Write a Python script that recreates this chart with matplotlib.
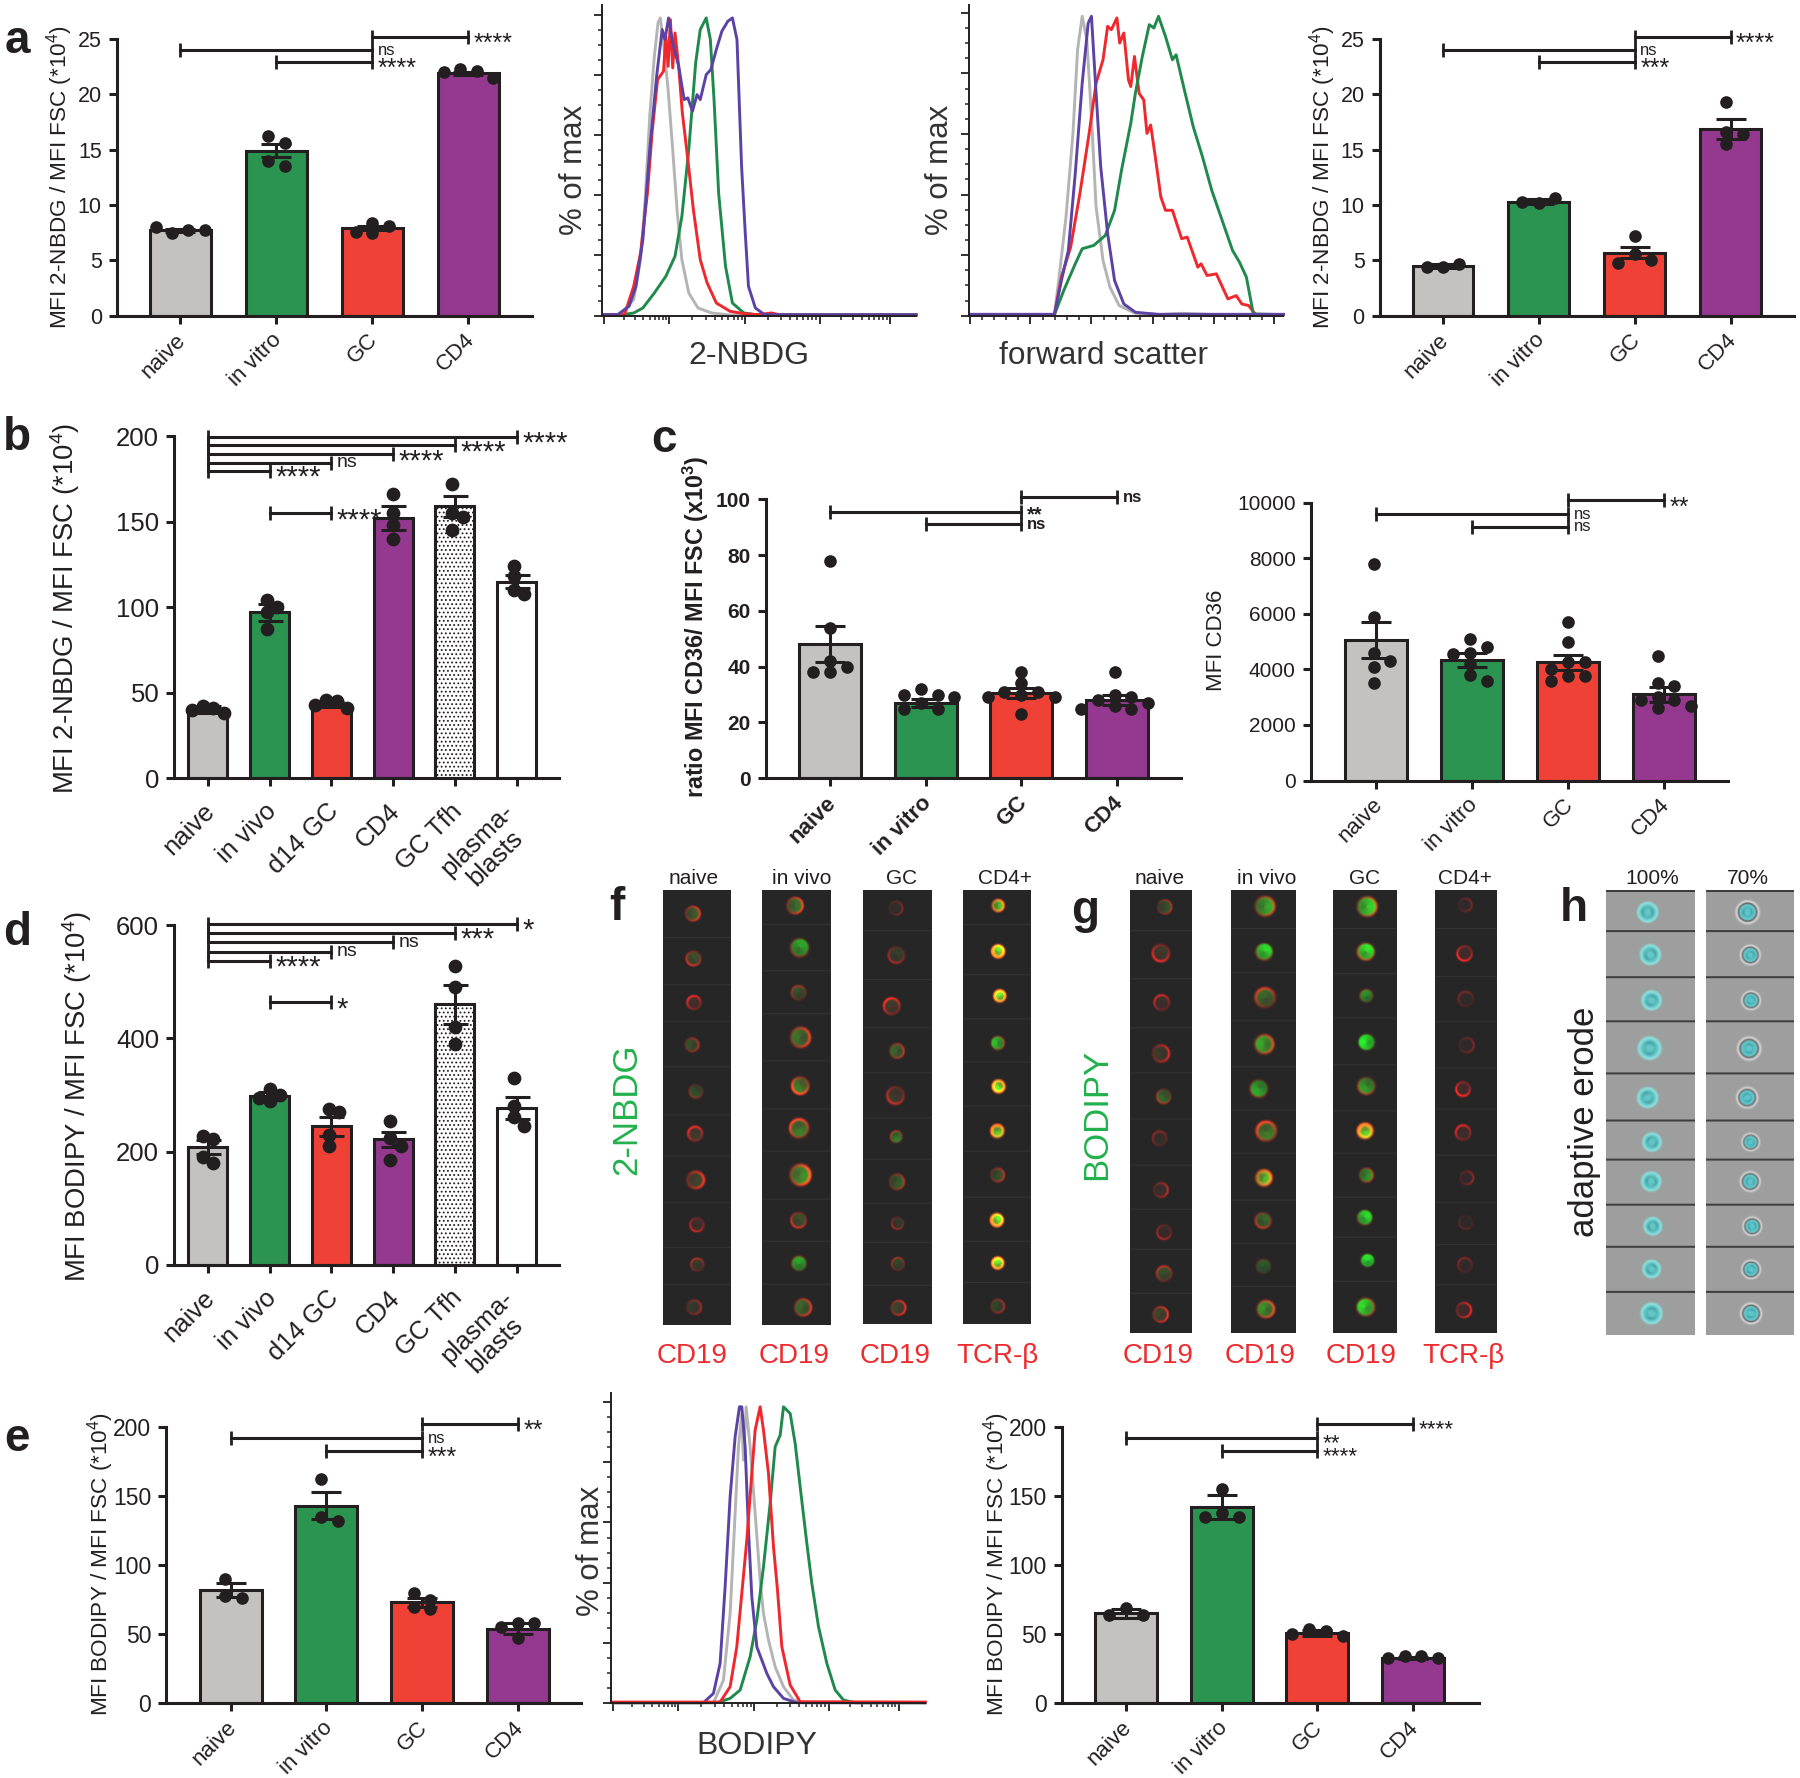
import numpy as np
import matplotlib
matplotlib.use('Agg')
import matplotlib.pyplot as plt
from matplotlib.transforms import ScaledTranslation

plt.rcParams['font.family'] = ['Liberation Sans', 'DejaVu Sans']
plt.rcParams['mathtext.fontset'] = 'custom'
plt.rcParams['mathtext.rm'] = 'Liberation Sans'
plt.rcParams['mathtext.bf'] = 'Liberation Sans:bold'
plt.rcParams['mathtext.default'] = 'regular'
plt.rcParams['hatch.linewidth'] = 0.8

W, H = 1568.0, 1549.0
DARK = '#231f20'
GREY, GREEN, RED, PURPLE = '#c3c2c0', '#2a9450', '#f04137', '#953890'
WHITE = '#ffffff'

# ---- bar data
labels_vitro = ['naive', 'in vitro', 'GC', 'CD4']
labels_vivo = ['naive', 'in vivo', 'd14 GC', 'CD4', 'GC Tfh', 'plasma-\nblasts']

a1_mean = [7.7, 14.9, 7.9, 21.9]
a1_err = [0.15, 0.6, 0.2, 0.15]
a1_pts = [[7.5, 7.7, 8.0, 7.7], [16.2, 15.6, 14.0, 13.5], [8.4, 8.1, 7.6, 7.5], [22.3, 22.1, 22.0, 21.5]]
a1_sig = [(2, 3, 25.2, '****'), (0, 2, 24.0, 'ns'), (1, 2, 22.9, '****')]

a2_mean = [4.5, 10.3, 5.7, 16.9]
a2_err = [0.15, 0.2, 0.5, 0.9]
a2_pts = [[4.4, 4.7, 4.4], [10.2, 10.6, 10.3], [7.2, 5.6, 5.0, 4.8], [19.3, 16.6, 16.4, 15.5]]
a2_sig = [(2, 3, 25.2, '****'), (0, 2, 24.0, 'ns'), (1, 2, 22.9, '***')]

b_mean = [40, 97, 43, 152, 159, 115]
b_err = [2, 5, 1.5, 7, 6, 4]
b_pts = [[42, 41, 40, 38], [104, 100, 97, 87], [46, 45, 43, 41], [166, 155, 148, 140],
         [172, 155, 153, 145], [124, 118, 110, 108]]
b_sig = [(0, 5, 199.5, '****'), (0, 4, 194.6, '****'), (0, 3, 189.3, '****'),
         (0, 2, 184.6, 'ns'), (0, 1, 179.9, '****'), (1, 2, 155, '****')]

c1_mean = [48, 27, 30.5, 28]
c1_err = [6.5, 1.3, 1.8, 1.7]
c1_pts = [[78, 54, 42, 40, 38, 38], [32, 30, 30, 29, 27, 25, 25], [38, 34, 31, 31, 30, 29, 29, 23],
          [38, 30, 29, 28, 27, 26, 25, 25]]
c1_sig = [(2, 3, 100.8, 'ns'), (0, 2, 95.5, '**'), (1, 2, 91, 'ns')]

c2_mean = [5050, 4350, 4250, 3100]
c2_err = [640, 250, 270, 280]
c2_pts = [[7800, 5900, 4600, 4300, 4100, 3500], [5100, 4800, 4600, 4550, 4200, 3800, 3600],
          [5700, 5000, 4250, 4250, 4000, 3750, 3750, 3600], [4500, 3500, 3400, 3000, 2900, 2900, 2700, 2600]]
c2_sig = [(2, 3, 10083, '**'), (0, 2, 9587, 'ns'), (1, 2, 9132, 'ns')]

d_mean = [208, 298, 245, 222, 460, 277]
d_err = [12, 7, 17, 13, 35, 20]
d_pts = [[228, 222, 190, 180], [310, 300, 295, 290], [275, 270, 230, 210], [255, 225, 210, 185],
         [528, 490, 420, 390], [330, 280, 262, 245]]
d_sig = [(0, 5, 602, '*'), (0, 4, 586, '***'), (0, 3, 570, 'ns'), (0, 2, 553, 'ns'),
         (0, 1, 537, '****'), (1, 2, 464, '*')]

e1_mean = [82, 143, 73, 54]
e1_err = [5, 10, 3, 4]
e1_pts = [[90, 78, 76], [162, 135, 132], [80, 75, 70, 68], [58, 58, 55, 47]]
e1_sig = [(2, 3, 201.7, '**'), (0, 2, 191.7, 'ns'), (1, 2, 182.6, '***')]

e2_mean = [65, 142, 51, 33]
e2_err = [3.5, 9, 2, 0.7]
e2_pts = [[69, 64, 64], [155, 138, 135, 135], [54, 52, 50, 49], [34, 34, 33, 33]]
e2_sig = [(2, 3, 201.7, '****'), (0, 2, 191.7, '**'), (1, 2, 182.6, '****')]

# ---- histograms, channel / count values
nbdg_gray_x = [0, 35, 65, 80, 90, 100, 110, 118, 123, 130, 140, 150, 160, 170, 185, 205, 235, 275, 680]
nbdg_gray_y = [3, 3, 48, 168, 348, 598, 778, 878, 893, 818, 678, 498, 308, 168, 68, 23, 8, 2, 2]
nbdg_red_x = [0, 45, 65, 80, 95, 105, 117, 130, 135, 140, 145, 150, 155, 163, 171, 183, 195, 210, 225, 245, 275, 305, 335, 365, 385, 680]
nbdg_red_y = [3, 3, 88, 188, 368, 548, 708, 733, 838, 748, 888, 743, 848, 748, 608, 468, 318, 168, 98, 38, 13, 6, 3, 8, 2, 2]
nbdg_green_x = [0, 35, 65, 85, 110, 135, 155, 170, 185, 200, 210, 223, 232, 240, 250, 265, 280, 305, 335, 680]
nbdg_green_y = [2, 2, 8, 23, 68, 118, 178, 298, 498, 758, 858, 893, 828, 648, 368, 148, 38, 8, 2, 2]
nbdg_purple_x = [0, 30, 55, 70, 85, 100, 115, 127, 133, 141, 150, 163, 175, 183, 193, 203, 210, 223, 233, 245, 257, 270, 280, 290, 300, 308, 315, 330, 350, 680]
nbdg_purple_y = [3, 3, 28, 88, 228, 498, 718, 858, 828, 893, 818, 748, 648, 653, 613, 663, 648, 723, 738, 798, 853, 883, 893, 828, 448, 248, 88, 23, 3, 3]

fsc_gray_x = [0, 183, 193, 208, 223, 233, 243, 253, 263, 273, 288, 303, 323, 358, 408, 458, 533, 678]
fsc_gray_y = [3, 3, 115, 295, 545, 795, 895, 825, 595, 325, 165, 85, 30, 7, 3, 7, 3, 3]
fsc_red_x = [0, 183, 198, 218, 238, 258, 273, 288, 298, 306, 318, 324, 333, 343, 348, 356, 366, 376, 383, 391, 400, 413, 423, 438, 458, 470, 493, 500, 513, 533, 558, 576, 588, 603, 618, 678]
fsc_red_y = [3, 3, 115, 205, 365, 545, 695, 765, 865, 855, 890, 815, 845, 705, 685, 775, 665, 645, 545, 570, 485, 355, 315, 315, 230, 235, 145, 155, 120, 125, 50, 60, 35, 30, 3, 3]
fsc_green_x = [0, 183, 203, 228, 243, 268, 293, 313, 328, 348, 358, 373, 388, 398, 408, 423, 438, 446, 463, 483, 503, 523, 543, 568, 583, 598, 613, 678]
fsc_green_y = [3, 3, 75, 155, 200, 210, 240, 315, 435, 575, 665, 775, 870, 860, 895, 835, 765, 780, 680, 565, 475, 375, 295, 195, 160, 115, 5, 3]
fsc_purple_x = [0, 183, 198, 213, 228, 243, 256, 263, 273, 283, 298, 313, 333, 358, 408, 678]
fsc_purple_y = [4, 4, 105, 195, 425, 695, 875, 895, 665, 445, 245, 105, 35, 10, 4, 4]

bod_purple_x = [0, 272, 302, 322, 337, 352, 367, 380, 387, 397, 407, 417, 432, 462, 482, 512, 552, 937]
bod_purple_y = [2, 2, 30, 120, 350, 620, 800, 890, 890, 770, 520, 320, 170, 90, 50, 15, 2, 2]
bod_gray_x = [0, 302, 332, 352, 362, 377, 387, 392, 400, 412, 427, 442, 452, 467, 487, 512, 542, 577, 937]
bod_gray_y = [2, 2, 70, 270, 470, 770, 870, 730, 890, 770, 570, 370, 270, 190, 110, 50, 10, 2, 2]
bod_red_x = [0, 322, 352, 372, 387, 402, 417, 427, 442, 452, 467, 482, 494, 507, 532, 562, 937]
bod_red_y = [4, 4, 50, 170, 330, 490, 690, 820, 890, 820, 690, 470, 340, 170, 55, 5, 4]
bod_green_x = [0, 312, 352, 382, 412, 432, 452, 472, 487, 502, 512, 522, 532, 547, 562, 582, 597, 617, 642, 667, 692, 727, 937]
bod_green_y = [2, 2, 15, 40, 140, 250, 410, 600, 770, 805, 890, 880, 870, 780, 650, 480, 360, 230, 120, 40, 10, 2, 2]

nbdg_ticks = [0, 143, 308, 470, 623]
fsc_ticks = [0, 131, 263, 395, 528, 658]
bod_ticks = [0, 197, 425, 647, 857]

# ---- image-stream columns: (row lines) and (x, y, radius, red, green) per cell, in crop units
f1_rows = [122, 268, 408, 520, 654, 797, 920, 1058, 1192, 1305, 1425]
f2_rows = [122, 228, 366, 495, 637, 778, 905, 1048, 1174, 1304, 1425]
f3_rows = [122, 246, 394, 537, 671, 806, 930, 1061, 1180, 1308, 1423]
f4_rows = [122, 228, 378, 510, 640, 772, 907, 1043, 1175, 1300, 1423]
g1_rows = [122, 246, 390, 536, 672, 810, 946, 1080, 1198, 1332, 1449]
g2_rows = [122, 241, 372, 516, 652, 782, 912, 1050, 1180, 1308, 1448]
g3_rows = [122, 240, 375, 508, 646, 785, 910, 1043, 1163, 1294, 1448]
g4_rows = [122, 240, 385, 518, 656, 778, 916, 1056, 1184, 1304, 1448]
h_rows = [122, 250, 388, 520, 674, 815, 932, 1068, 1195, 1328, 1457]

f1_cells = [(222, 194, 18, .8, .25), (224, 328, 18, .7, .2), (225, 460, 17, .9, .05), (220, 586, 17, .55, .2),
            (230, 725, 17, .4, .2), (228, 852, 18, .9, .1), (229, 990, 21, .9, .15), (232, 1124, 17, .7, .05),
            (233, 1243, 16, .6, .1), (225, 1370, 18, .5, .1)]
f2_cells = [(470, 170, 20, .8, .35), (482, 295, 23, .3, .6), (479, 431, 18, .5, .2), (483, 564, 24, .8, .35),
            (483, 708, 21, 1, .4), (480, 836, 23, .9, .4), (483, 975, 25, 1, .5), (479, 1110, 19, .7, .2),
            (480, 1240, 19, .25, .6), (489, 1371, 21, .7, .3)]
f3_cells = [(712, 178, 17, .35, .05), (713, 318, 20, .5, .12), (702, 471, 20, .9, .1), (714, 605, 18, .6, .3),
            (711, 738, 21, .7, .1), (713, 862, 15, .5, .4), (714, 996, 19, .5, .25), (716, 1120, 15, .5, .1),
            (717, 1242, 16, .5, .15), (718, 1373, 18, .8, .15)]
f4_cells = [(959, 170, 16, .8, .7), (960, 306, 17, 1, 1), (964, 441, 16, .9, 1), (958, 581, 17, .4, .7),
            (961, 710, 17, .8, 1), (958, 845, 17, 1, .8), (958, 976, 17, .6, .2), (957, 1110, 17, .9, 1),
            (959, 1240, 16, .9, 1), (958, 1368, 17, .5, .15)]
g1_cells = [(1360, 174, 18, .5, .2), (1351, 312, 21, .8, .1), (1353, 460, 19, .7, .05), (1351, 612, 21, .7, .1),
            (1358, 740, 18, .5, .3), (1348, 866, 18, .45, .05), (1351, 1020, 18, .6, .05), (1359, 1146, 18, .55, .03),
            (1359, 1270, 19, .6, .2), (1350, 1392, 19, .8, .15)]
g2_cells = [(166, 172, 26, .6, .6), (165, 307, 23, .3, .85), (167, 445, 26, .7, .3), (164, 584, 25, .7, .6),
            (151, 716, 24, .3, .6), (170, 844, 26, .9, .4), (163, 983, 22, .8, .7), (162, 1110, 21, .6, .3),
            (163, 1248, 20, .2, .25), (168, 1375, 23, .8, .5)]
g3_cells = [(433, 173, 26, .6, .8), (431, 307, 23, .5, .9), (432, 440, 18, .3, .5), (432, 578, 23, .1, .95),
            (432, 708, 23, .45, .55), (429, 844, 21, 1, .85), (431, 975, 19, .5, .5), (428, 1101, 21, .2, .85),
            (435, 1230, 19, .1, .9), (429, 1369, 24, .4, .85)]
g4_cells = [(693, 168, 18, .35, .02), (691, 313, 20, .9, .03), (694, 449, 20, .35, .02), (696, 587, 20, .35, .02),
            (687, 718, 19, 1, .03), (687, 848, 20, .8, .03), (697, 983, 18, .45, .02), (694, 1116, 18, .25, .02),
            (692, 1243, 19, .4, .02), (689, 1378, 20, .8, .03)]
h1_cells = [(1165, 190, 25), (1172, 317, 25), (1175, 454, 24), (1170, 597, 28), (1165, 745, 25),
            (1176, 878, 23), (1174, 996, 24), (1178, 1130, 22), (1175, 1258, 22), (1175, 1391, 26)]
h2_cells = [(1429, 190, 22), (1436, 318, 19), (1438, 454, 18), (1433, 598, 22), (1428, 745, 20),
            (1437, 878, 17), (1436, 996, 19), (1441, 1130, 18), (1438, 1259, 18), (1438, 1391, 20)]


fig = plt.figure(figsize=(18, 17.78), dpi=100)


def add_box(x0, x1, ytop, ybot):
    return fig.add_axes([x0 / W, 1 - ybot / H, (x1 - x0) / W, (ybot - ytop) / H])


def put_text(x, y, s, **kw):
    kw.setdefault('ha', 'center')
    kw.setdefault('va', 'center')
    kw.setdefault('color', DARK)
    fig.text(x / W, 1 - y / H, s, **kw)


def swarm(vals, px_per_unit, dot, step):
    placed = []
    for v in vals:
        for k in [0, 1, -1, 2, -2, 3, -3, 4, -4]:
            ox = k * step
            ok = True
            for px, pv in placed:
                if (ox - px) ** 2 + ((v - pv) * px_per_unit) ** 2 < (dot * 0.72) ** 2:
                    ok = False
                    break
            if ok:
                placed.append((ox, v))
                break
    shift = np.mean([p[0] for p in placed])
    return [p[0] - shift for p in placed]


def bar_panel(box, c0, spacing, barw, labels, colors, means, errs, pts, sigs, ymax, yticks,
              tick_fs=15.5, label_fs=16, sig_fs=12, dot=11, weight='normal', hatch_idx=None, capsize=11, xpad=4,
              star_scale=1.5, star_dy=-5):
    x0, x1, ytop, ybot = box
    ax = add_box(*box)
    ax.patch.set_alpha(0)
    xpos = np.arange(len(means))
    ax.set_xlim((x0 - c0) / spacing, (x1 - c0) / spacing)
    ax.set_ylim(0, ymax)
    bars = ax.bar(xpos, means, width=barw / spacing, color=colors, edgecolor=DARK, linewidth=2.2, zorder=2)
    if hatch_idx is not None:
        bars[hatch_idx].set_hatch('....')
    ppu = (ybot - ytop) / ymax
    for i, vals in enumerate(pts):
        off = np.array(swarm(vals, ppu, dot, barw * 0.27)) / spacing
        ax.scatter(xpos[i] + off, vals, s=(dot * 1.148 * 0.72) ** 2, color=DARK, zorder=3, clip_on=False, linewidths=0)
    ax.errorbar(xpos, means, yerr=errs, fmt='none', ecolor=DARK, elinewidth=2.2, capsize=capsize, capthick=2.2, zorder=4)
    for a, b, y, s in sigs:
        ax.plot([a, b], [y, y], color=DARK, lw=2.2, marker='|', ms=10, mew=2, clip_on=False, zorder=5)
        star = '*' in s
        ax.annotate(s, (b, y), xytext=(4, star_dy if star else 0), textcoords='offset points', va='center', ha='left',
                    fontsize=sig_fs * star_scale if star else sig_fs, color=DARK, annotation_clip=False, weight=weight)
    for sp in ['top', 'right']:
        ax.spines[sp].set_visible(False)
    for sp in ['left', 'bottom']:
        ax.spines[sp].set_linewidth(2.2)
        ax.spines[sp].set_color(DARK)
    ax.set_yticks(yticks)
    ax.set_yticklabels([str(t) for t in yticks], fontsize=tick_fs, color=DARK, weight=weight)
    ax.set_xticks(xpos)
    ax.set_xticklabels(labels, rotation=45, ha='right', rotation_mode='anchor', fontsize=label_fs,
                       color=DARK, weight=weight, multialignment='center', linespacing=1.1)
    ax.tick_params(axis='both', width=2.2, length=6, color=DARK, pad=5)
    ax.tick_params(axis='x', pad=xpad)
    for lb in ax.get_xticklabels():
        dx = -11 if '\n' in lb.get_text() else -3.5
        lb.set_transform(lb.get_transform() + ScaledTranslation(dx / 72, 0, fig.dpi_scale_trans))
    return ax


def log_minors(majors):
    out = []
    for a, b in zip(majors[:-1], majors[1:]):
        out += [a + (b - a) * np.log10(k) for k in range(2, 10)]
    return out


def hist_panel(box, xmax, left, top, curves, majors, minors, full=903):
    ax = add_box(*box)
    ax.patch.set_alpha(0)
    for xs, ys, col in curves:
        ax.plot(xs, ys, color=col, lw=2.1, solid_joinstyle='round', clip_on=False)
    ax.set_xlim(-left, xmax)
    ax.set_ylim(0, top)
    for sp in ['top', 'right']:
        ax.spines[sp].set_visible(False)
    for sp in ['left', 'bottom']:
        ax.spines[sp].set_linewidth(1.4)
        ax.spines[sp].set_color(DARK)
    ax.set_xticks(majors)
    ax.set_xticks(minors, minor=True)
    ax.set_yticks(np.arange(6) * full / 5)
    ax.set_yticks([i * full / 20 for i in range(21) if i % 4], minor=True)
    ax.tick_params(axis='both', which='major', length=6, width=1.3, color=DARK, labelbottom=False, labelleft=False)
    ax.tick_params(axis='both', which='minor', length=3, width=1.1, color=DARK)
    return ax


def stream_column(x0, x1, ytop, ybot, z0, z1, rows, cells, bg, draw):
    w = int(round((x1 - x0) * 1.148))
    h = int(round((ybot - ytop) * 1.148))
    img = np.zeros((h, w, 3), dtype=float)
    img[:, :] = bg
    yy, xx = np.mgrid[0:h, 0:w]
    zx = w / float(z1 - z0)
    zy = h / float(rows[-1] - rows[0])
    for i, c in enumerate(cells):
        cx = (c[0] - z0) * zx
        cy = (c[1] - rows[0]) * zy
        r = c[2] * zx
        dx = (xx - cx) / r
        dy = (yy - cy) / r
        d = np.sqrt(dx ** 2 + dy ** 2)
        theta = np.arctan2(dy, dx)
        draw(img, d, theta, i, c)
    for rw in rows[1:-1]:
        yl = int((rw - rows[0]) * zy)
        if draw is h_cell:
            img[yl - 1:yl + 1, :] = (62, 62, 62)
        else:
            img[yl:yl + 1, :] = (52, 52, 52)
    if draw is h_cell:
        img[0:3, :] = (62, 62, 62)
    ax = add_box(x0, x1, ytop, ybot)
    ax.imshow(np.clip(img, 0, 255).astype(np.uint8), aspect='auto', interpolation='bilinear')
    ax.axis('off')


def fluor_cell(img, d, theta, i, c):
    red, green = c[3], c[4]
    ring = np.exp(-((d - 0.95) / 0.16) ** 2) * (0.66 + 0.34 * np.cos(theta - i * 2.1))
    disk = np.clip((1.0 - d) / 0.25, 0, 1)
    yellow = 280 * (green - 0.4) if red >= 0.8 and green >= 0.7 else 0
    img[..., 0] += red * ring * 245 + yellow * disk * (1.2 - 0.9 * (d < 0.55)) + red * disk * 30
    img[..., 1] += green * disk * 215 * (0.8 + 0.2 * np.cos(theta + i)) + 0.6 * red * green * ring * 120
    img[..., 2] += 5 * disk


def h_cell(img, d, theta, i, c):
    is_eroded = c[0] > 1300
    disk = np.clip((1.0 - d) / 0.12, 0, 1)[..., None]
    inner = np.array((95, 200, 205)) if is_eroded else np.array((100, 200, 200))
    if is_eroded:
        halo = np.exp(-((d - 1.25) / 0.2) ** 2)[..., None]
        rim = np.exp(-((d - 1.05) / 0.14) ** 2)[..., None]
        img[:] = img * (1 - halo * 0.8) + np.array((235, 235, 235)) * halo * 0.8
        img[:] = img * (1 - rim * 0.8) + np.array((85, 90, 90)) * rim * 0.8
    img[:] = img * (1 - disk) + inner * disk
    if not is_eroded:
        ring = np.exp(-((d - 0.95) / 0.16) ** 2)[..., None]
        img[:] = img * (1 - ring * 0.9) + np.array((140, 228, 225)) * ring * 0.9
    core = np.exp(-((d - 0.5) / 0.16) ** 2)[..., None] * (0.7 + 0.3 * np.cos(2 * theta + i))[..., None]
    img[:] = img * (1 - core * 0.6) + np.array((55, 140, 145)) * core * 0.6


# ---- bar panels
vitro_cols = [GREY, GREEN, RED, PURPLE]
vivo_cols = [GREY, GREEN, RED, PURPLE, WHITE, WHITE]

bar_panel((102, 463, 34, 275), 157, 83.7, 53, labels_vitro, vitro_cols, a1_mean, a1_err, a1_pts, a1_sig, 25, [0, 5, 10, 15, 20, 25])
bar_panel((1202, 1563, 34, 275), 1257, 83.5, 53, labels_vitro, vitro_cols, a2_mean, a2_err, a2_pts, a2_sig, 25, [0, 5, 10, 15, 20, 25])
bar_panel((152, 487, 380, 678), 181, 53.8, 34, labels_vivo, vivo_cols, b_mean, b_err, b_pts, b_sig, 200, [0, 50, 100, 150, 200],
          tick_fs=18.5, label_fs=18.5, sig_fs=14, dot=12, hatch_idx=4, capsize=9, xpad=9)
bar_panel((152, 487, 806, 1102), 181, 53.8, 34, labels_vivo, vivo_cols, d_mean, d_err, d_pts, d_sig, 600, [0, 200, 400, 600],
          tick_fs=18.5, label_fs=18.5, sig_fs=14, dot=12, hatch_idx=4, capsize=9, xpad=9)
bar_panel((667, 1029, 435, 678), 723, 83.3, 54, labels_vitro, vitro_cols, c1_mean, c1_err, c1_pts, c1_sig, 100, [0, 20, 40, 60, 80, 100],
          tick_fs=15, label_fs=16, sig_fs=12, weight='bold', star_scale=1.2, star_dy=-2)
bar_panel((1142, 1505, 438, 680), 1199, 83.5, 54, labels_vitro, vitro_cols, c2_mean, c2_err, c2_pts, c2_sig, 10000, [0, 2000, 4000, 6000, 8000, 10000],
          tick_fs=15, label_fs=16, sig_fs=12)
bar_panel((145, 506, 1243, 1484), 201, 83.3, 54, labels_vitro, vitro_cols, e1_mean, e1_err, e1_pts, e1_sig, 200, [0, 50, 100, 150, 200],
          tick_fs=16.5)
bar_panel((925, 1288, 1243, 1484), 981, 83.3, 54, labels_vitro, vitro_cols, e2_mean, e2_err, e2_pts, e2_sig, 200, [0, 50, 100, 150, 200],
          tick_fs=16.5, star_scale=1.35, star_dy=-4)

# ---- histograms
C_GRAY, C_RED, C_GREEN, C_PURPLE = '#b4b4b4', '#f0282d', '#1f8a4c', '#5c42a4'
hist_panel((524, 798, 4, 275), 680, 5, 933,
           [(nbdg_gray_x, nbdg_gray_y, C_GRAY), (nbdg_green_x, nbdg_green_y, C_GREEN),
            (nbdg_red_x, nbdg_red_y, C_RED), (nbdg_purple_x, nbdg_purple_y, C_PURPLE)],
           nbdg_ticks, log_minors(nbdg_ticks))
hist_panel((844, 1118, 4, 275), 678, 2, 930,
           [(fsc_gray_x, fsc_gray_y, C_GRAY), (fsc_red_x, fsc_red_y, C_RED),
            (fsc_green_x, fsc_green_y, C_GREEN), (fsc_purple_x, fsc_purple_y, C_PURPLE)],
           fsc_ticks, [v for i in range(131) for v in [i * 26.3] if i * 26.3 <= 678 and i % 5], full=905)
hist_panel((532, 806, 1214, 1484), 937, 6, 930,
           [(bod_gray_x, bod_gray_y, C_GRAY), (bod_green_x, bod_green_y, C_GREEN),
            (bod_purple_x, bod_purple_y, C_PURPLE), (bod_red_x, bod_red_y, C_RED)],
           bod_ticks, log_minors(bod_ticks), full=905)

# ---- image stream columns
dark_bg = (38, 38, 38)
f_cols = [(577.5, 636, 152, 315, f1_rows, f1_cells), (664, 724, 392, 558, f2_rows, f2_cells),
          (751.5, 811.5, 634, 800, f3_rows, f3_cells), (839, 898, 876, 1040, f4_rows, f4_cells)]
for x0, x1, z0, z1, rows, cells in f_cols:
    stream_column(x0, x1, 775, 775 + (rows[-1] - 122) * 0.2909, z0, z1, rows, cells, dark_bg, fluor_cell)
g_cols = [(984, 1038, 1277, 1428, g1_rows, g1_cells), (1072, 1128, 80, 248, g2_rows, g2_cells),
          (1161, 1216, 347, 512, g3_rows, g3_cells), (1250, 1304, 615, 777, g4_rows, g4_cells)]
for x0, x1, z0, z1, rows, cells in g_cols:
    stream_column(x0, x1, 775, 1161, z0, z1, rows, cells, dark_bg, fluor_cell)
stream_column(1399, 1476, 775, 1163, 1060, 1287, h_rows, h1_cells, (158, 158, 158), h_cell)
stream_column(1486, 1562, 775, 1163, 1323, 1550, h_rows, h2_cells, (158, 158, 158), h_cell)

# ---- labels
for x, y, s in [(15, 36, 'a'), (15, 382, 'b'), (578, 383, 'c'), (15, 813, 'd'), (15, 1254, 'e'),
                (537, 791, 'f'), (945, 794, 'g'), (1371, 792, 'h')]:
    put_text(x, y, s, fontsize=33, weight='bold')

lab_nbdg = 'MFI 2-NBDG / MFI FSC (*10$^{4}$)'
lab_bod = 'MFI BODIPY / MFI FSC (*10$^{4}$)'
put_text(52, 154, lab_nbdg, rotation=90, fontsize=16.2)
put_text(1152, 154, lab_nbdg, rotation=90, fontsize=16.2)
put_text(57, 530, lab_nbdg, rotation=90, fontsize=19.8)
put_text(67, 955, lab_bod, rotation=90, fontsize=19.8)
put_text(88, 1363, lab_bod, rotation=90, fontsize=16.2)
put_text(868, 1363, lab_bod, rotation=90, fontsize=16.2)
put_text(606, 546, r'ratio MFI CD36/ MFI FSC (x10$\mathbf{^{3}}$)', rotation=90, fontsize=16.8, weight='bold')
put_text(1060, 558, 'MFI CD36', rotation=90, fontsize=16)

put_text(500, 148, '% of max', rotation=90, fontsize=22.5, color='#333333')
put_text(819, 148, '% of max', rotation=90, fontsize=22.5, color='#333333')
put_text(515, 1351, '% of max', rotation=90, fontsize=22.5, color='#333333')
put_text(652, 310, '2-NBDG', fontsize=23, color='#333333')
put_text(961, 310, 'forward scatter', fontsize=22.7, color='#333333')
put_text(659, 1521, 'BODIPY', fontsize=23, color='#333333')

put_text(546, 966, '2-NBDG', rotation=90, fontsize=25, color='#22b14c')
put_text(955, 971, 'BODIPY', rotation=90, fontsize=25, color='#22b14c')
put_text(1380, 977, 'adaptive erode', rotation=90, fontsize=25)

for x, s in [(604, 'naive'), (698, 'in vivo'), (785, 'GC'), (875, 'CD4+'),
             (1010, 'naive'), (1103, 'in vivo'), (1189, 'GC'), (1276, 'CD4+'),
             (1439, '100%'), (1523, '70%')]:
    put_text(x, 765, s, fontsize=15)

for x, s in [(603, 'CD19'), (692, 'CD19'), (780, 'CD19'), (869, 'TCR-β'),
             (1009, 'CD19'), (1098, 'CD19'), (1186, 'CD19'), (1275, 'TCR-β')]:
    put_text(x, 1181, s, fontsize=20, color='#ee2b2e')

fig.savefig('out.png', dpi=100)
